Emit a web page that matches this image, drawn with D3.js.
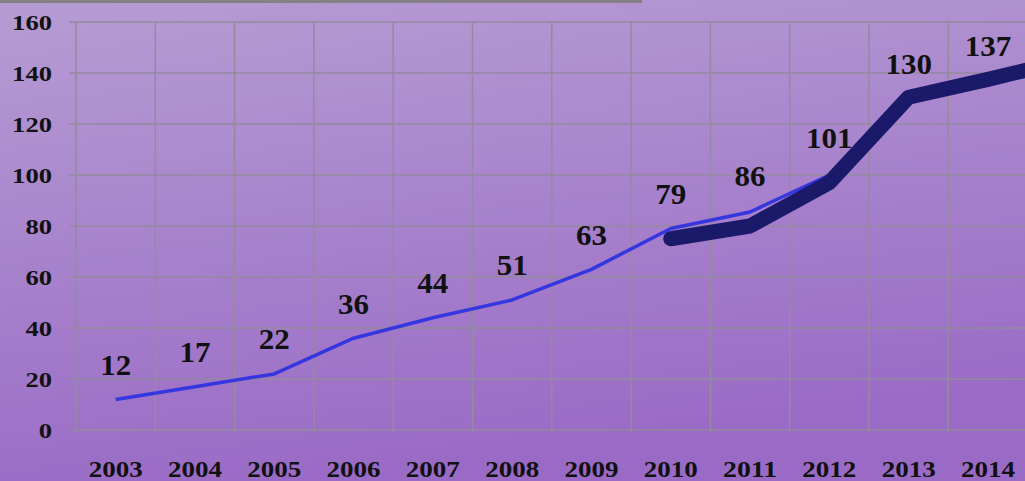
<!DOCTYPE html>
<html>
<head>
<meta charset="utf-8">
<script src="https://cdn.jsdelivr.net/npm/d3@7"></script>
<style>
  body { margin: 0; padding: 0; overflow: hidden; }
  svg { display: block; }
  text { font-family: "Liberation Serif", "Times New Roman", serif; font-weight: bold; fill: #111; }
</style>
</head>
<body>
<div id="chart"></div>
<script>
// data
var years = [2003, 2004, 2005, 2006, 2007, 2008, 2009, 2010, 2011, 2012, 2013, 2014];
var labels = [12, 17, 22, 36, 44, 51, 63, 79, 86, 101, 130, 137];
var actualYears = [2003, 2004, 2005, 2006, 2007, 2008, 2009, 2010, 2011, 2012];
var actualValues = [12, 17, 22, 36, 44, 51, 63, 79, 85.5, 100];
var trendYears = [2010, 2011, 2012, 2013, 2014, 2015];
var trendValues = [75, 80, 97, 130.5, 137.5, 145];
var yTicks = [0, 20, 40, 60, 80, 100, 120, 140, 160];

var width = 1025, height = 481;
var margin = {top: 22, left: 76, bottom: 51};

var svg = d3.select("#chart").append("svg")
    .attr("width", width)
    .attr("height", height);

// background gradient
var grad = svg.append("defs").append("linearGradient")
    .attr("id", "bg")
    .attr("x1", "0").attr("y1", "0").attr("x2", "0.25").attr("y2", "1");
grad.append("stop").attr("offset", "0%").attr("stop-color", "#b69cd3");
grad.append("stop").attr("offset", "100%").attr("stop-color", "#9a6bc6");

svg.append("rect")
    .attr("width", width)
    .attr("height", height)
    .attr("fill", "url(#bg)");

// grey strip at the top
svg.append("rect")
    .attr("x", 0).attr("y", 0)
    .attr("width", 642).attr("height", 3)
    .attr("fill", "#858085");

// scales
var x = d3.scaleBand().domain(years).range([margin.left, margin.left + 12 * 79.3]);
var xc = d3.scaleLinear()
    .domain([2003, 2014])
    .range([x(2003) + x.bandwidth() / 2, x(2014) + x.bandwidth() / 2]);
var y = d3.scaleLinear().domain([0, 160]).range([430, margin.top]);

// grid
svg.append("g")
    .selectAll("line")
    .data(yTicks)
    .enter().append("line")
    .attr("x1", 69).attr("x2", width)
    .attr("y1", function(d) { return y(d); })
    .attr("y2", function(d) { return y(d); })
    .attr("stroke", "#958a9e")
    .attr("stroke-width", 1.5);

svg.append("g")
    .selectAll("line")
    .data(years)
    .enter().append("line")
    .attr("x1", function(d) { return x(d); })
    .attr("x2", function(d) { return x(d); })
    .attr("y1", y(160))
    .attr("y2", y(0) + 2)
    .attr("stroke", "#958a9e")
    .attr("stroke-width", 1.5);

// y axis labels
svg.append("g")
    .selectAll("text")
    .data(yTicks)
    .enter().append("text")
    .attr("x", 52)
    .attr("y", function(d) { return y(d); })
    .attr("dy", "0.35em")
    .attr("text-anchor", "end")
    .attr("textLength", function(d) { return String(d).length * 13.3; })
    .attr("lengthAdjust", "spacingAndGlyphs")
    .style("font-size", "22px")
    .text(function(d) { return d; });

// x axis labels
svg.append("g")
    .selectAll("text")
    .data(years)
    .enter().append("text")
    .attr("x", function(d) { return x(d) + x.bandwidth() / 2; })
    .attr("y", 477)
    .attr("text-anchor", "middle")
    .attr("textLength", 54)
    .attr("lengthAdjust", "spacingAndGlyphs")
    .style("font-size", "24px")
    .text(function(d) { return d; });

// lines
var line = d3.line()
    .x(function(d) { return xc(d[0]); })
    .y(function(d) { return y(d[1]); });

svg.append("path")
    .datum(d3.zip(actualYears, actualValues))
    .attr("d", line)
    .attr("fill", "none")
    .attr("stroke", "#3636e0")
    .attr("stroke-width", 3.5)
    .attr("stroke-linejoin", "round");

svg.append("path")
    .datum(d3.zip(trendYears, trendValues))
    .attr("d", line)
    .attr("fill", "none")
    .attr("stroke", "#1b1a6a")
    .attr("stroke-width", 15)
    .attr("stroke-linecap", "round")
    .attr("stroke-linejoin", "round");

// value labels
svg.append("g")
    .selectAll("text")
    .data(d3.zip(years, labels))
    .enter().append("text")
    .attr("x", function(d) { return xc(d[0]); })
    .attr("y", function(d) { return y(d[1]) - 35; })
    .attr("dy", "0.35em")
    .attr("text-anchor", "middle")
    .attr("textLength", function(d) { return String(d[1]).length * 15.5; })
    .attr("lengthAdjust", "spacingAndGlyphs")
    .style("font-size", "30px")
    .text(function(d) { return d[1]; });
</script>
</body>
</html>
